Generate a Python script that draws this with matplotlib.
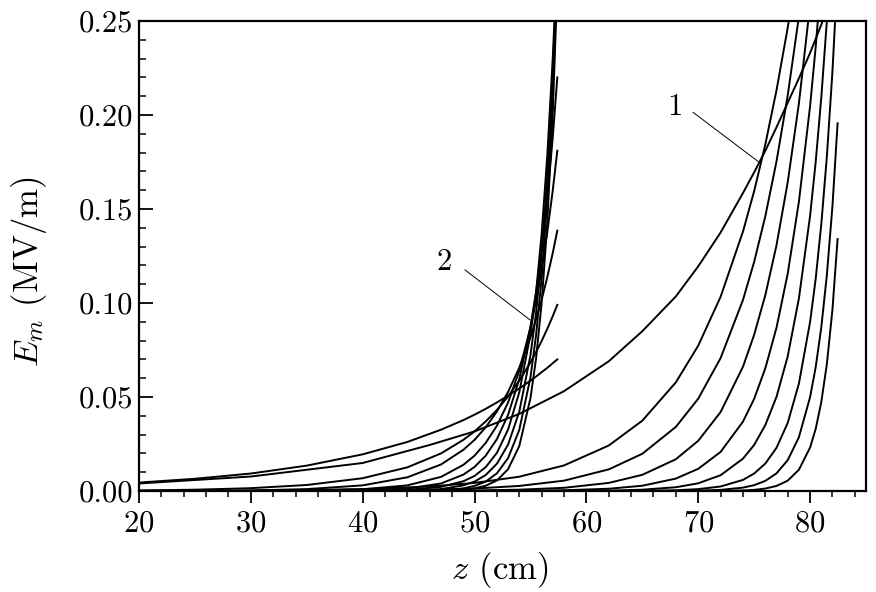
import matplotlib
matplotlib.use("Agg")
import matplotlib.pyplot as plt
from matplotlib.ticker import MultipleLocator, FormatStrFormatter

plt.rcParams['font.family'] = 'serif'
plt.rcParams['font.serif'] = ['cmr10', 'DejaVu Serif']
plt.rcParams['mathtext.fontset'] = 'cm'
plt.rcParams['axes.formatter.use_mathtext'] = True

# ---- group 2 (curves ending at z = 57.4 cm) ----
z2 = [20, 25, 30, 35, 40, 44, 47, 49, 50, 51, 52, 53, 54, 55, 55.5, 56, 56.5, 57, 57.4]
g2_A = [0.0045, 0.0065, 0.0093, 0.0135, 0.0195, 0.0261, 0.0326, 0.0377, 0.0406, 0.0437, 0.0471, 0.0507, 0.0545, 0.0587, 0.0609, 0.0632, 0.0655, 0.0680, 0.0700]
g2_B = [0.0003, 0.0007, 0.0015, 0.0032, 0.0068, 0.0126, 0.0200, 0.0272, 0.0317, 0.0370, 0.0431, 0.0503, 0.0587, 0.0684, 0.0739, 0.0798, 0.0862, 0.0931, 0.0990]
g2_C = [0.0000, 0.0001, 0.0003, 0.0010, 0.0030, 0.0073, 0.0141, 0.0219, 0.0272, 0.0339, 0.0423, 0.0527, 0.0656, 0.0817, 0.0912, 0.1018, 0.1136, 0.1268, 0.1385]
g2_D = [0.0000, 0.0000, 0.0000, 0.0002, 0.0009, 0.0030, 0.0075, 0.0139, 0.0188, 0.0256, 0.0347, 0.0471, 0.0640, 0.0869, 0.1012, 0.1180, 0.1374, 0.1602, 0.1810]
g2_E = [0.0000, 0.0000, 0.0000, 0.0000, 0.0003, 0.0013, 0.0040, 0.0087, 0.0128, 0.0188, 0.0276, 0.0405, 0.0595, 0.0874, 0.1059, 0.1284, 0.1556, 0.1886, 0.2200]
g2_F = [0.0000, 0.0000, 0.0000, 0.0000, 0.0001, 0.0006, 0.0022, 0.0052, 0.0080, 0.0127, 0.0203, 0.0327, 0.0525, 0.0833, 0.1054, 0.1369, 0.1780, 0.2311, 0.2850]
g2_G = [0.0000, 0.0000, 0.0000, 0.0000, 0.0000, 0.0002, 0.0010, 0.0030, 0.0050, 0.0085, 0.0145, 0.0247, 0.0422, 0.0722, 0.0947, 0.1257, 0.1674, 0.2229, 0.2800]
g2_H = [0.0000, 0.0000, 0.0000, 0.0000, 0.0000, 0.0001, 0.0004, 0.0014, 0.0027, 0.0050, 0.0094, 0.0175, 0.0325, 0.0604, 0.0828, 0.1135, 0.1556, 0.2133, 0.2747]
g2_I = [0.0000, 0.0000, 0.0000, 0.0000, 0.0000, 0.0000, 0.0002, 0.0007, 0.0014, 0.0028, 0.0056, 0.0116, 0.0239, 0.0494, 0.0704, 0.1000, 0.1422, 0.2023, 0.2683]
group2 = [g2_A, g2_B, g2_C, g2_D, g2_E, g2_F, g2_G, g2_H, g2_I]

# ---- group 1 (curves ending at z = 82.46 cm) ----
z1 = [20, 30, 40, 46, 50, 54, 58, 62, 65, 68, 70, 72, 74, 75, 76, 77, 78, 79, 80, 80.5, 81, 81.5, 82, 82.46]
g1_1 = [0.0040, 0.0077, 0.0149, 0.0245, 0.0317, 0.0410, 0.0531, 0.0690, 0.0850, 0.1035, 0.1195, 0.1375, 0.1585, 0.1695, 0.1810, 0.1935, 0.2065, 0.2195, 0.2330, 0.2405, 0.2480, 0.2555, 0.2630, 0.2700]
g1_2 = [0.0001, 0.0002, 0.0010, 0.0024, 0.0043, 0.0076, 0.0136, 0.0242, 0.0374, 0.0578, 0.0773, 0.1033, 0.1380, 0.1595, 0.1844, 0.2132, 0.2464, 0.2848, 0.3290, 0.3540, 0.3810, 0.4100, 0.4400, 0.4700]
g1_3 = [0.0000, 0.0000, 0.0002, 0.0006, 0.0013, 0.0027, 0.0055, 0.0115, 0.0198, 0.0341, 0.0491, 0.0707, 0.1016, 0.1219, 0.1462, 0.1754, 0.2104, 0.2523, 0.3026, 0.3314, 0.3630, 0.3980, 0.4360, 0.4730]
g1_4 = [0.0000, 0.0000, 0.0000, 0.0001, 0.0003, 0.0007, 0.0017, 0.0043, 0.0086, 0.0169, 0.0267, 0.0420, 0.0661, 0.0831, 0.1042, 0.1308, 0.1642, 0.2061, 0.2587, 0.2898, 0.3250, 0.3640, 0.4080, 0.4520]
g1_5 = [0.0000, 0.0000, 0.0000, 0.0000, 0.0000, 0.0001, 0.0004, 0.0012, 0.0028, 0.0066, 0.0118, 0.0208, 0.0369, 0.0490, 0.0653, 0.0869, 0.1156, 0.1538, 0.2047, 0.2361, 0.2724, 0.3140, 0.3620, 0.4100]
g1_6 = [0.0000, 0.0000, 0.0000, 0.0000, 0.0000, 0.0000, 0.0001, 0.0002, 0.0007, 0.0020, 0.0041, 0.0084, 0.0172, 0.0245, 0.0351, 0.0501, 0.0716, 0.1024, 0.1463, 0.1749, 0.2091, 0.2500, 0.2990, 0.3520]
g1_7 = [0.0000, 0.0000, 0.0000, 0.0000, 0.0000, 0.0000, 0.0000, 0.0000, 0.0001, 0.0004, 0.0010, 0.0024, 0.0059, 0.0093, 0.0146, 0.0230, 0.0362, 0.0571, 0.0899, 0.1128, 0.1417, 0.1778, 0.2232, 0.2750]
g1_8 = [0.0000, 0.0000, 0.0000, 0.0000, 0.0000, 0.0000, 0.0000, 0.0000, 0.0000, 0.0000, 0.0002, 0.0006, 0.0018, 0.0031, 0.0054, 0.0094, 0.0164, 0.0286, 0.0499, 0.0658, 0.0869, 0.1148, 0.1515, 0.1956]
g1_9 = [0.0000, 0.0000, 0.0000, 0.0000, 0.0000, 0.0000, 0.0000, 0.0000, 0.0000, 0.0000, 0.0000, 0.0001, 0.0003, 0.0006, 0.0013, 0.0027, 0.0055, 0.0113, 0.0231, 0.0330, 0.0472, 0.0675, 0.0965, 0.1340]
group1 = [g1_1, g1_2, g1_3, g1_4, g1_5, g1_6, g1_7, g1_8, g1_9]

x_ticks = [20, 30, 40, 50, 60, 70, 80]
y_ticks = [0.00, 0.05, 0.10, 0.15, 0.20, 0.25]

fig = plt.figure(figsize=(8.76, 5.92), dpi=100)
ax = fig.add_axes([139/876, 1 - 491/592, 727/876, 470/592])

for vals in group2:
    ax.plot(z2, vals, color='black', lw=1.4, solid_joinstyle='round')
for vals in group1:
    ax.plot(z1, vals, color='black', lw=1.4, solid_joinstyle='round')

ax.set_xlim(20, 85)
ax.set_ylim(0, 0.25)
ax.set_xticks(x_ticks)
ax.set_yticks(y_ticks)
ax.xaxis.set_minor_locator(MultipleLocator(2))
ax.yaxis.set_minor_locator(MultipleLocator(0.01))
ax.yaxis.set_major_formatter(FormatStrFormatter('%.2f'))

ax.tick_params(axis='x', which='major', direction='out', length=8.5, width=1.3, labelsize=22, pad=5)
ax.tick_params(axis='x', which='minor', direction='out', length=4.5, width=1.1)
ax.tick_params(axis='y', which='major', direction='in', length=10, width=1.3, labelsize=22, pad=4)
ax.tick_params(axis='y', which='minor', direction='in', length=5, width=1.1)
ax.tick_params(top=False, right=False, which='both')
for s in ax.spines.values():
    s.set_linewidth(1.6)

ax.set_xlabel(r'$z$ (cm)', fontsize=25)
ax.set_ylabel(r'$E_m$ (MV/m)', fontsize=25)
ax.xaxis.set_label_coords(0.4966, -0.126)
ax.yaxis.set_label_coords(-0.124, 0.466)

# curve labels with leader lines
ax.text(67.9, 0.204, '1', fontsize=22, ha='center', va='center')
ax.plot([69.54, 75.37], [0.2014, 0.1752], color='black', lw=0.7)
ax.text(47.3, 0.1218, '2', fontsize=22, ha='center', va='center')
ax.plot([49.15, 54.96], [0.1176, 0.0910], color='black', lw=0.7)

fig.savefig('out.png', dpi=100)
